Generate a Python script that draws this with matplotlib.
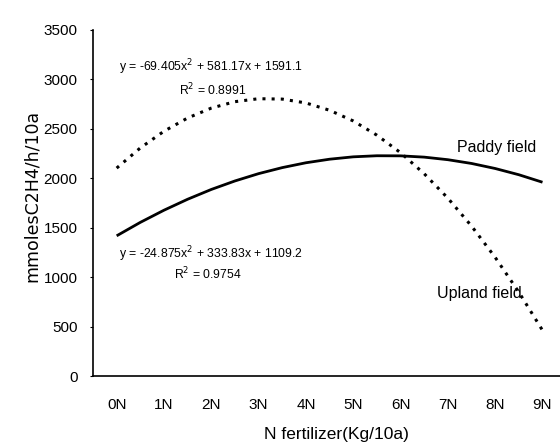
import matplotlib
matplotlib.use("Agg")
import matplotlib.pyplot as plt

plt.rcParams['font.family'] = ['Liberation Sans', 'DejaVu Sans']

# Values, at every half step from 0N to 9N
pos = [0, 0.5, 1, 1.5, 2, 2.5, 3, 3.5, 4, 4.5, 5, 5.5, 6, 6.5, 7, 7.5, 8, 8.5, 9]
upland = [2103, 2307, 2476, 2610, 2710, 2775, 2805, 2801, 2762, 2688,
          2580, 2436, 2259, 2046, 1799, 1517, 1200, 848, 462]
paddy = [1418, 1554, 1677, 1788, 1887, 1973, 2047, 2108, 2157, 2193,
         2217, 2228, 2227, 2214, 2188, 2150, 2099, 2036, 1960]
levels = ['0N', '1N', '2N', '3N', '4N', '5N', '6N', '7N', '8N', '9N']

eq_upland = 'y = -69.405x$^{2}$ + 581.17x + 1591.1'
r2_upland = 'R$^{2}$ = 0.8991'
eq_paddy = 'y = -24.875x$^{2}$ + 333.83x + 1109.2'
r2_paddy = 'R$^{2}$ = 0.9754'

fig = plt.figure(figsize=(5.6, 4.46), dpi=100)
ax = fig.add_axes([93/560, 1 - 376/446, 467/560, 346/446])

ax.plot(pos, upland, color='black', lw=2.2, linestyle=(0, (1, 2)))
ax.plot(pos, paddy, color='black', lw=2.0, solid_capstyle='butt')

ax.set_xlim(-0.5, 9.37)
ax.set_ylim(0, 3500)
ax.set_yticks(range(0, 3501, 500))
ax.set_xticks(range(len(levels)))
ax.set_xticklabels(levels)
ax.tick_params(axis='x', length=0, pad=16, labelsize=11)
ax.tick_params(axis='y', length=2, width=0.8, pad=9, labelsize=11)

for s in ['top', 'right']:
    ax.spines[s].set_visible(False)
ax.spines['left'].set_linewidth(1.2)
ax.spines['bottom'].set_linewidth(1.2)

ax.set_xlabel('N fertilizer(Kg/10a)', fontsize=12.5, va='center')
ax.xaxis.set_label_coords(0.522, -0.17)
ax.set_ylabel('mmolesC2H4/h/10a', fontsize=12.5, family='DejaVu Sans', va='center')
ax.yaxis.set_label_coords(-0.13, 0.52)

ax.text(1.99, 3124, eq_upland, fontsize=8.8, ha='center', va='center')
ax.text(2.03, 2890, r2_upland, fontsize=8.8, ha='center', va='center')
ax.text(1.99, 1237, eq_paddy, fontsize=8.8, ha='center', va='center')
ax.text(1.93, 1034, r2_paddy, fontsize=8.8, ha='center', va='center')
ax.text(8.03, 2312, 'Paddy field', fontsize=11.5, ha='center', va='center')
ax.text(7.67, 832, 'Upland field', fontsize=11.5, ha='center', va='center')

plt.savefig('out.png', dpi=100)
